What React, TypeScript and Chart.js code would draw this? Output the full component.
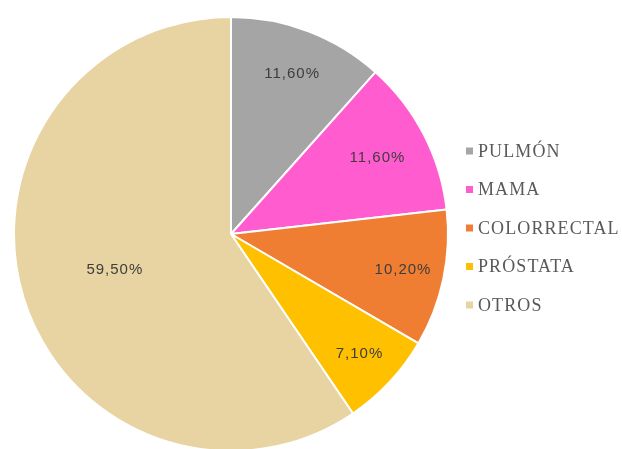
import React, { useEffect, useRef } from "react";
import { Chart, registerables } from "chart.js";

Chart.register(...registerables);

const categories = ["PULMÓN", "MAMA", "COLORRECTAL", "PRÓSTATA", "OTROS"];
const values = [11.6, 11.6, 10.2, 7.1, 59.5];
const valueLabels = ["11,60%", "11,60%", "10,20%", "7,10%", "59,50%"];
const sliceColors = ["#A5A5A5", "#FF5DCF", "#EF7D32", "#FFC000", "#E8D3A2"];
const labelRadiusFraction = [0.79, 0.76, 0.81, 0.81, 0.56];

const labelPlugin = {
  id: "sliceLabels",
  afterDatasetsDraw(chart: any) {
    const ctx = chart.ctx;
    const meta = chart.getDatasetMeta(0);
    ctx.save();
    ctx.font = "15px 'Liberation Sans', Arial, sans-serif";
    ctx.fillStyle = "#3d3d3d";
    ctx.textAlign = "center";
    ctx.textBaseline = "middle";
    try { (ctx as any).letterSpacing = "1px"; } catch (e) {}
    meta.data.forEach((arc: any, i: number) => {
      const p = arc.getProps(["x", "y", "startAngle", "endAngle", "outerRadius"], true);
      const mid = (p.startAngle + p.endAngle) / 2;
      const r = p.outerRadius * labelRadiusFraction[i];
      ctx.fillText(valueLabels[i], p.x + Math.cos(mid) * r, p.y + Math.sin(mid) * r);
    });
    ctx.restore();
  },
};

const legendPlugin = {
  id: "sideLegend",
  afterDraw(chart: any) {
    const ctx = chart.ctx;
    const area = chart.chartArea;
    const x0 = area.right + 17;
    const yStart = 151;
    const step = 38.5;
    ctx.save();
    ctx.font = "18px 'Liberation Serif', 'Times New Roman', serif";
    ctx.textAlign = "left";
    ctx.textBaseline = "middle";
    try { (ctx as any).letterSpacing = "1.1px"; } catch (e) {}
    categories.forEach((c, i) => {
      const y = yStart + i * step;
      ctx.fillStyle = sliceColors[i];
      ctx.fillRect(x0, y - 3.5, 7, 7);
      ctx.fillStyle = "#595959";
      ctx.fillText(c, x0 + 12, y + 1);
    });
    ctx.restore();
  },
};

export default function App() {
  const ref = useRef<HTMLCanvasElement>(null);
  useEffect(() => {
    if (!ref.current) return;
    const chart = new Chart(ref.current, {
      type: "pie",
      data: {
        labels: categories,
        datasets: [
          {
            data: values,
            backgroundColor: sliceColors,
            borderColor: "#FFFFFF",
            borderWidth: 2,
            radius: 217,
          } as any,
        ],
      },
      options: {
        animation: false,
        responsive: false,
        layout: { padding: { left: 13, top: 19, right: 173, bottom: 0 } },
        plugins: {
          legend: { display: false },
          tooltip: { enabled: false },
        },
      },
      plugins: [labelPlugin, legendPlugin],
    });
    return () => chart.destroy();
  }, []);
  return (
    <div style={{ position: "absolute", left: 0, top: 0, width: 622, height: 449, background: "#fff", overflow: "hidden" }}>
      <canvas ref={ref} width={622} height={449} style={{ display: "block" }} />
    </div>
  );
}
